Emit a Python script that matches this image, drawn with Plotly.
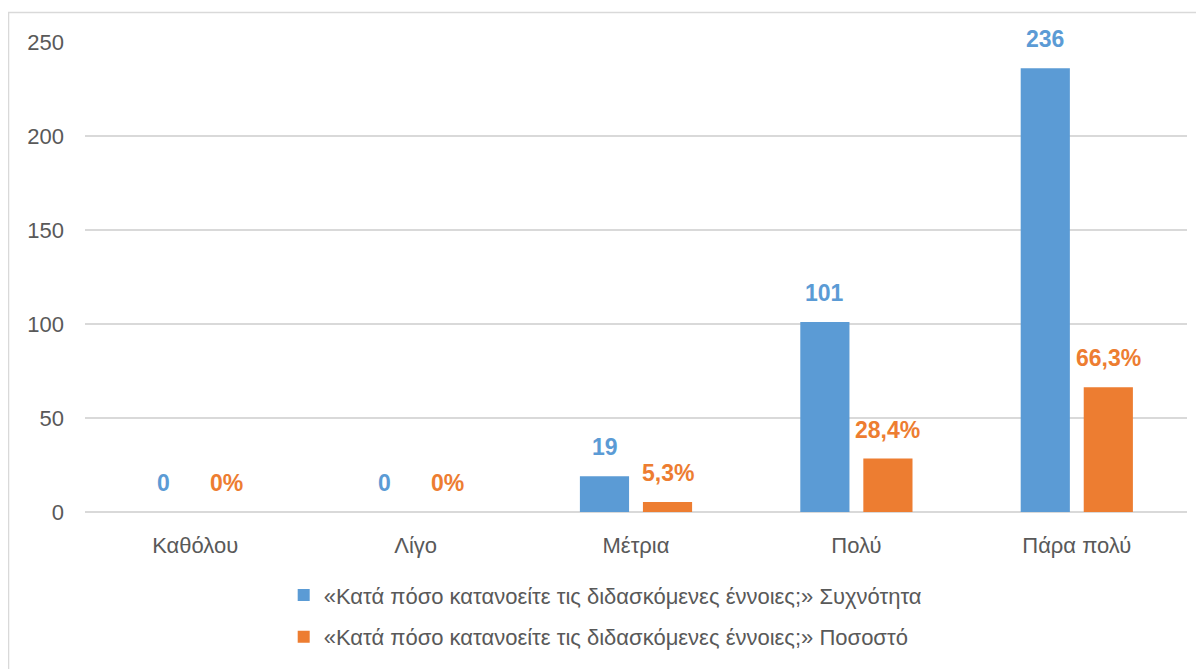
import plotly.graph_objects as go

categories = ["Καθόλου", "Λίγο", "Μέτρια", "Πολύ", "Πάρα πολύ"]
freq_values = [0, 0, 19, 101, 236]
pct_values = [0, 0, 5.3, 28.4, 66.3]
freq_name = "«Κατά πόσο κατανοείτε τις διδασκόμενες έννοιες;» Συχνότητα"
pct_name = "«Κατά πόσο κατανοείτε τις διδασκόμενες έννοιες;» Ποσοστό"
y_ticks = [0, 50, 100, 150, 200, 250]

BLUE = "#5b9bd5"
ORANGE = "#ed7d31"
GRAY = "#595959"
GRID = "#d9d9d9"
FONT = "Liberation Sans, Arial, sans-serif"


def pct_text(v):
    s = f"{v:g}".replace(".", ",")
    return s + "%"


freq_text = [str(v) for v in freq_values]
pct_texts = [pct_text(v) for v in pct_values]

fig = go.Figure()
fig.add_trace(go.Bar(x=categories, y=freq_values, name=freq_name, legendgroup="a",
                     marker=dict(color=BLUE, line=dict(width=0)), hoverinfo="skip"))
fig.add_trace(go.Bar(x=categories, y=pct_values, name=pct_name, legendgroup="b",
                     marker=dict(color=ORANGE, line=dict(width=0)), hoverinfo="skip"))

annotations = []
for cat, v, t in zip(categories, freq_values, freq_text):
    annotations.append(dict(x=cat, y=v, xref="x", yref="y", text=f"<b>{t}</b>",
                            showarrow=False, yanchor="bottom", xanchor="center",
                            xshift=-31.5, yshift=14,
                            font=dict(family=FONT, size=23, color=BLUE)))
for cat, v, t in zip(categories, pct_values, pct_texts):
    annotations.append(dict(x=cat, y=v, xref="x", yref="y", text=f"<b>{t}</b>",
                            showarrow=False, yanchor="bottom", xanchor="center",
                            xshift=31.5, yshift=14,
                            font=dict(family=FONT, size=23, color=ORANGE)))

fig.update_layout(
    width=1196, height=661,
    margin=dict(l=77, r=17, t=34, b=156),
    paper_bgcolor="white", plot_bgcolor="white",
    barmode="group", bargap=0.428, bargroupgap=0.22,
    font=dict(family=FONT, size=22, color=GRAY),
    showlegend=True,
    legend=dict(orientation="v", x=0.4725, xanchor="center", y=-0.13, yanchor="top",
                font=dict(family=FONT, size=22, color=GRAY),
                tracegroupgap=10, itemwidth=30, bgcolor="rgba(0,0,0,0)"),
    annotations=annotations,
    shapes=[dict(type="rect", xref="paper", yref="paper",
                 x0=-0.0694, x1=1.03, y0=-0.4, y1=1.0626,
                 line=dict(color=GRID, width=1.5), fillcolor="rgba(0,0,0,0)",
                 layer="below")],
)
fig.update_xaxes(showgrid=False, showline=False, zeroline=False,
                 ticks="", ticklabelstandoff=18,
                 tickfont=dict(family=FONT, size=22, color=GRAY))
fig.update_yaxes(range=[0, 250], tickvals=y_ticks, showgrid=True, gridcolor=GRID,
                 gridwidth=1.5, zeroline=True, zerolinecolor=GRID, zerolinewidth=1.5,
                 showline=False, ticks="", ticklabelstandoff=20,
                 tickfont=dict(family=FONT, size=22, color=GRAY))

fig.write_html("out.html")
